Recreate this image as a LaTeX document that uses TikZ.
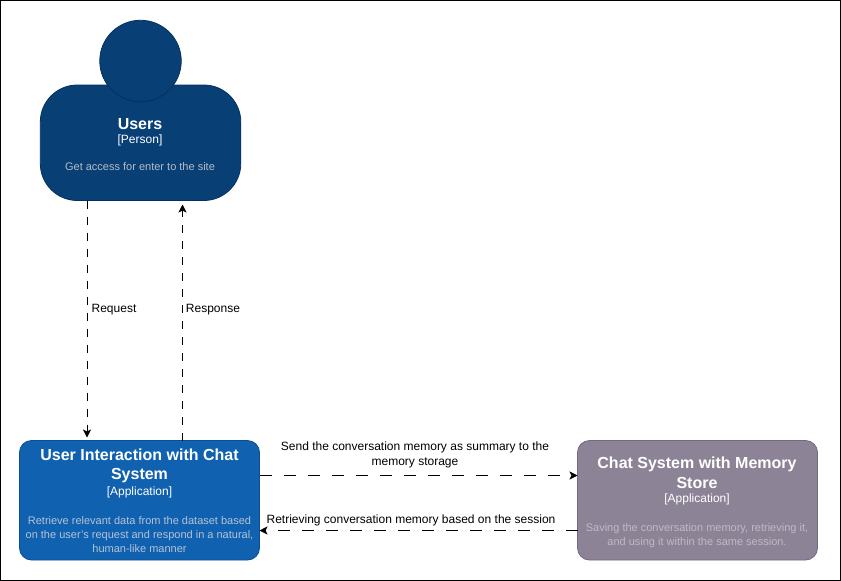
\documentclass[tikz,border=0pt]{standalone}
\usepackage{fontspec}
\setmainfont{Liberation Sans}
\usetikzlibrary{arrows.meta}
\definecolor{personblue}{HTML}{083F75}
\definecolor{personline}{HTML}{06315C}
\definecolor{appblue}{HTML}{1061B0}
\definecolor{appline}{HTML}{0D5091}
\definecolor{memgrey}{HTML}{8C8496}
\definecolor{memline}{HTML}{736782}
\definecolor{descperson}{HTML}{B5BCC8}
\definecolor{descapp}{HTML}{B4C3D6}
\definecolor{descmem}{HTML}{BFB9C5}
\tikzset{
  x=1pt,y=-1pt,
  boxbase/.style={draw,line width=0.8pt,minimum height=119.5pt,inner sep=0pt,outer sep=0pt,anchor=north west},
  personbody/.style={boxbase,fill=personblue,draw=personline,minimum width=200.5pt,minimum height=115.5pt,rounded corners=37pt},
  personhead/.style={draw=personline,fill=personblue,line width=0.8pt,circle,minimum size=81.5pt,inner sep=0pt,outer sep=0pt},
  appbox/.style={boxbase,fill=appblue,draw=appline,minimum width=240pt,rounded corners=12pt},
  membox/.style={boxbase,fill=memgrey,draw=memline,minimum width=240pt,rounded corners=12pt},
  title/.style={text=white,align=center,font=\fontsize{16}{19.5}\selectfont\bfseries,inner sep=0pt},
  kind/.style={text=white,align=center,font=\fontsize{12}{14}\selectfont,inner sep=0pt},
  desc/.style={align=center,font=\fontsize{11}{14}\selectfont,inner sep=0pt},
  link/.style={draw=black,line width=0.9pt,-{Stealth[length=8pt,width=8pt,inset=2pt,sep=0pt]}},
  vlink/.style={link,dash pattern=on 8pt off 8pt},
  hlink/.style={link,dash pattern=on 12pt off 12pt},
  lab/.style={text=black,align=center,font=\fontsize{12}{15}\selectfont,inner sep=0pt},
}
\begin{document}
\begin{tikzpicture}
\useasboundingbox (0,0) rectangle (841,581);
\node[draw=black,line width=1.4pt,minimum width=839.6pt,minimum height=579.6pt,inner sep=0pt,outer sep=0pt,anchor=north west] (frame) at (0.7,0.7) {};
\node[personbody] (body) at (40.3,85) {};
\node[personhead] (head) at (140.5,61) {};
\node[appbox] (app) at (19.5,440.5) {};
\node[membox] (mem) at (577.5,440.5) {};
\node[title] (t1) at (140,124) {Users};
\node[kind] (k1) at (140,140) {[Person]};
\node[desc,text=descperson] (d1) at (140,167) {Get access for enter to the site};
\node[title] (t2) at (139.5,466) {User Interaction with Chat\\System};
\node[kind] (k2) at (139.5,492) {[Application]};
\node[desc,text=descapp] (d2) at (139.5,535) {Retrieve relevant data from the dataset based\\on the user's request and respond in a natural,\\human-like manner};
\node[title] (t3) at (697,473) {Chat System with Memory\\Store};
\node[kind] (k3) at (697,499) {[Application]};
\node[desc,text=descmem] (d3) at (697,536) {Saving the conversation memory, retrieving it,\\and using it within the same session.};
\coordinate (xreq) at (87,0);
\coordinate (xres) at (182.5,0);
\coordinate (ysend) at (0,475.5);
\coordinate (yret) at (0,530.5);
\draw[vlink,shorten >=3pt] (body.south -| xreq) -- (app.north -| xreq);
\draw[vlink,shorten >=4pt] (app.north -| xres) -- (body.south -| xres);
\draw[hlink] (app.east |- ysend) -- (mem.west |- ysend);
\draw[hlink] (mem.west |- yret) -- (app.east |- yret);
\node[lab] (l1) at (114,309.5) {Request};
\node[lab] (l2) at (213,309.5) {Response};
\node[lab] (l3) at (415,454.5) {Send the conversation memory as summary to the\\memory storage};
\node[lab] (l4) at (411,520) {Retrieving conversation memory based on the session};
\end{tikzpicture}
\end{document}
